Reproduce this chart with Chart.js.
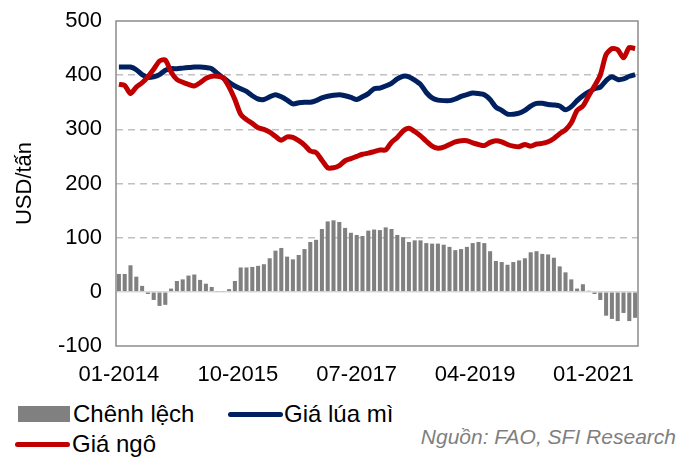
<!DOCTYPE html>
<html>
<head>
<meta charset="utf-8">
<script src="https://cdn.jsdelivr.net/npm/chart.js@4"></script>
<style>
  body { margin: 0; background: #fff; font-family: "Liberation Sans", Arial, sans-serif; }
  #wrap { position: relative; width: 688px; height: 458px; }
  .leg { position: absolute; font-size: 24px; color: #000; line-height: 26px; white-space: nowrap; }
  .box { position: absolute; background: #808080; }
  .ln { position: absolute; height: 5px; border-radius: 3px; }
  #src { position: absolute; right: 12px; top: 425px; font-size: 21px; font-style: italic; color: #7f7f7f; white-space: nowrap; }
</style>
</head>
<body>
<div id="wrap">
  <canvas id="chart" width="688" height="400"></canvas>
  <div class="box" style="left:18px; top:406px; width:52px; height:16px;"></div>
  <div class="leg" style="left:73px; top:401px;">Chênh lệch</div>
  <div class="ln" style="left:228px; top:412px; width:55px; background:#002060;"></div>
  <div class="leg" style="left:284px; top:401px;">Giá lúa mì</div>
  <div class="ln" style="left:15px; top:442px; width:55px; background:#c00000;"></div>
  <div class="leg" style="left:72px; top:431px;">Giá ngô</div>
  <div id="src">Nguồn: FAO, SFI Research</div>
</div>
<script>
// Months 01-2014 .. 06-2021
const months = [];
for (let y = 2014; y <= 2021; y++) {
    for (let m = 1; m <= 12; m++) {
        if (y === 2021 && m > 6) break;
        months.push(String(m).padStart(2, "0") + "-" + y);
    }
}

// Wheat price (USD/tan)
const wheatPrice = [
    415, 415, 415, 410, 401, 396, 397, 401, 409, 412,
    412, 413, 414, 415, 415, 414, 412, 403, 395, 387,
    380, 375, 370, 362, 356, 355, 360, 364, 360, 354,
    347, 349, 350, 350, 353, 358, 361, 363, 364, 362,
    359, 355, 360, 366, 375, 376, 380, 385, 393, 398,
    397, 391, 383, 368, 358, 354, 353, 353, 356, 361,
    364, 367, 366, 364, 355, 341, 335, 328, 328, 330,
    335, 343, 348, 348, 346, 345, 343, 336, 342, 353,
    362, 369, 375, 378, 390, 397, 392, 393, 398, 401
];

// Corn price (USD/tan)
const cornPrice = [
    383, 381, 366, 378, 386, 397, 411, 426, 428, 406,
    392, 387, 383, 380, 386, 394, 398, 398, 395, 378,
    355, 328, 318, 311, 303, 300, 295, 287, 280, 286,
    285, 279, 271, 260, 257, 243, 229, 229, 233, 242,
    246, 250, 254, 256, 259, 262, 262, 276, 285, 297,
    302, 296, 288, 278, 269, 265, 267, 272, 277, 279,
    279, 275, 272, 270, 276, 279, 277, 272, 269, 268,
    272, 269, 273, 274, 277, 283, 292, 299, 312, 335,
    343, 362, 380, 400, 438, 449, 447, 432, 451, 449
];

// Spread wheat - corn
const spread = [
    33, 33, 49, 28, 11, -4, -15, -26, -24, 6,
    20, 23, 30, 32, 22, 15, 9, 1, 1, 5,
    20, 45, 45, 46, 48, 51, 62, 76, 81, 65,
    60, 68, 79, 92, 96, 116, 130, 132, 129, 118,
    109, 105, 103, 113, 115, 114, 119, 116, 105, 101,
    92, 95, 95, 90, 89, 89, 87, 83, 77, 79,
    83, 90, 92, 90, 75, 57, 55, 50, 55, 58,
    62, 73, 75, 70, 69, 63, 47, 36, 23, 6,
    14, 2, -4, -15, -44, -50, -54, -39, -54, -48
];

const yTicks = [-100, 0, 100, 200, 300, 400, 500];
const xTickText = ["01-2014", "10-2015", "07-2017", "04-2019", "01-2021"];
// where the axis labels sit, in month units (as drawn in the original)
const xTickPos = [0, 20.5, 41, 61.4, 81.8];

const tickFont = { family: "Liberation Sans", size: 22 };

// frame around plot area + the x axis labels
const framePlugin = {
    id: "frame",
    afterDatasetsDraw(chart) {
        const { ctx, chartArea: a } = chart;
        ctx.save();
        ctx.strokeStyle = "#8c8c8c";
        ctx.lineWidth = 1.5;
        ctx.strokeRect(a.left, a.top, a.right - a.left, a.bottom - a.top);
        ctx.restore();
    },
    afterDraw(chart) {
        const { ctx, chartArea: a, scales } = chart;
        ctx.save();
        ctx.fillStyle = "#000";
        ctx.font = tickFont.size + "px " + tickFont.family;
        ctx.textAlign = "center";
        ctx.textBaseline = "middle";
        xTickText.forEach((t, k) => {
            ctx.fillText(t, scales.x.getPixelForValue(xTickPos[k]), a.bottom + 29);
        });
        ctx.restore();
    },
};

const ctx = document.getElementById("chart").getContext("2d");
new Chart(ctx, {
    type: "bar",
    data: {
        labels: months,
        datasets: [
            {
                type: "line",
                label: "Giá lúa mì",
                data: wheatPrice,
                borderColor: "#002060",
                borderWidth: 5,
                pointRadius: 0,
                tension: 0.25,
                order: 1,
            },
            {
                type: "line",
                label: "Giá ngô",
                data: cornPrice,
                borderColor: "#c00000",
                borderWidth: 5,
                pointRadius: 0,
                tension: 0.25,
                order: 0,
            },
            {
                label: "Chênh lệch",
                data: spread,
                backgroundColor: "#808080",
                categoryPercentage: 1,
                barPercentage: 0.7,
                order: 2,
            },
        ],
    },
    options: {
        responsive: false,
        animation: false,
        layout: { padding: { top: 21, right: 50, left: 0, bottom: 54 } },
        plugins: {
            legend: { display: false },
            tooltip: { enabled: false },
        },
        scales: {
            x: {
                display: false,
            },
            y: {
                min: -100,
                max: 500,
                afterBuildTicks: (s) => { s.ticks = yTicks.map((v) => ({ value: v })); },
                grid: {
                    drawTicks: false,
                    lineWidth: 1.5,
                    color: (c) => {
                        const v = c.tick.value;
                        if (v === 500 || v === -100) return "rgba(0,0,0,0)";
                        return v === 0 ? "#d9d9d9" : "#c0c0c0";
                    },
                },
                border: {
                    display: false,
                    dash: (c) => (c.tick && c.tick.value === 0 ? [] : [7, 5]),
                },
                ticks: {
                    padding: 14,
                    color: "#000",
                    font: tickFont,
                },
                title: {
                    display: true,
                    text: "USD/tấn",
                    color: "#000",
                    font: tickFont,
                    padding: { top: 12, bottom: 0 },
                },
                afterFit: (s) => {
                    s.width = 116;
                    s.paddingTop = 0;
                    s.paddingBottom = 0;
                },
            },
        },
    },
    plugins: [framePlugin],
});
</script>
</body>
</html>
